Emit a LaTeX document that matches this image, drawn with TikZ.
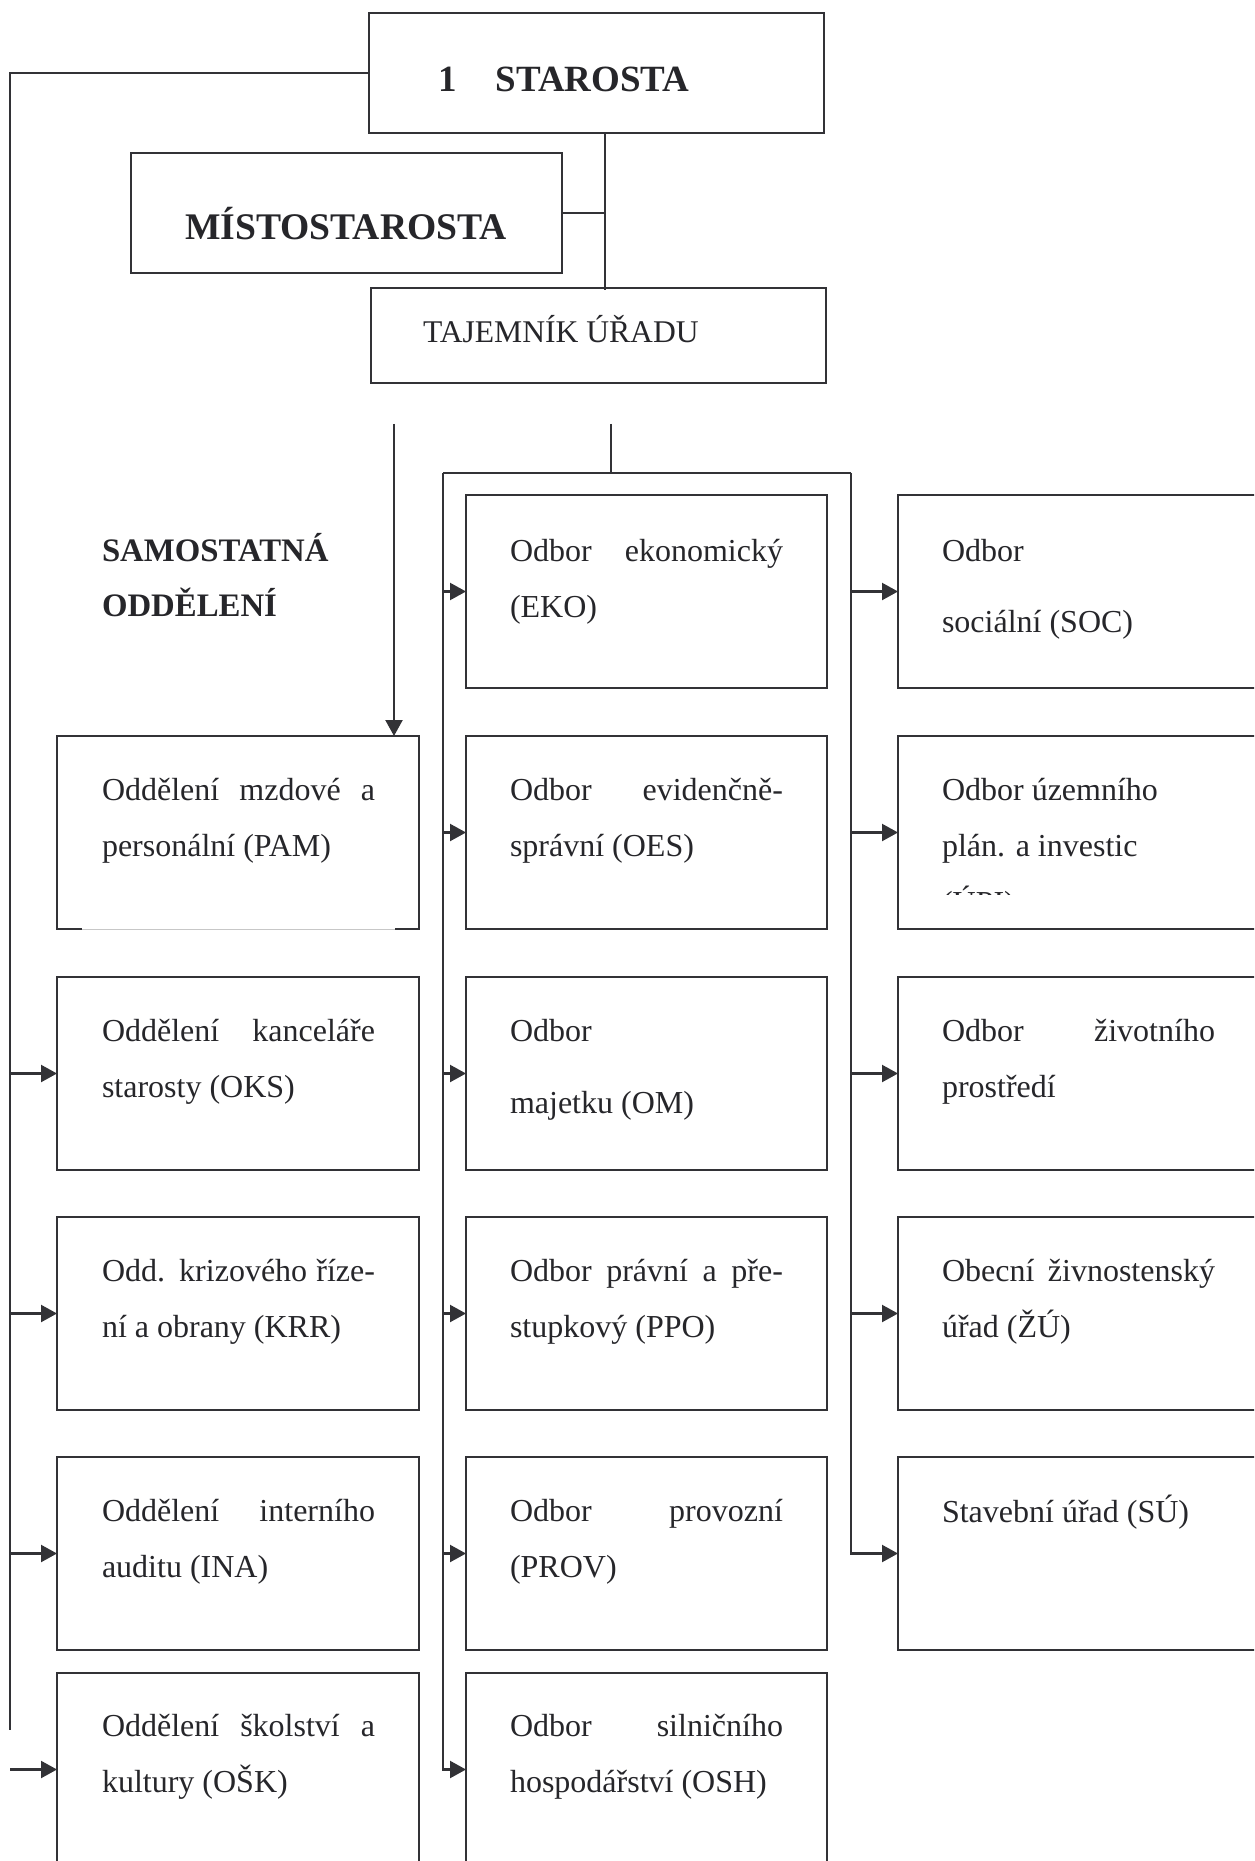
\documentclass[tikz,border=0pt]{standalone}
\usepackage{fontspec}
\setmainfont{Liberation Serif}
\usetikzlibrary{arrows.meta,calc}
\definecolor{linec}{RGB}{50,50,54}
\definecolor{txtc}{RGB}{38,38,42}
\newcommand{\jl}[1]{\makebox[\linewidth][s]{#1}}
\newcommand{\tb}[1]{\parbox[t]{136.5pt}{#1}}
\begin{document}
\begin{tikzpicture}[x=0.5pt,y=-0.5pt,
  box/.style={draw=linec,line width=1.2pt,rectangle,inner sep=0pt,outer sep=0pt,anchor=north west,minimum height=96.5pt},
  lbox/.style={box,minimum width=181pt},
  mbox/.style={box,minimum width=180.5pt},
  rbox/.style={box,minimum width=183pt},
  ln/.style={draw=linec,line width=1.1pt},
  arr/.style={ln,-{Triangle[length=8pt,width=8.5pt]}},
  txt/.style={anchor=base west,inner sep=0pt,outer sep=0pt,text=txtc,font=\fontsize{16}{28.25}\selectfont},
  btxt/.style={anchor=base west,inner sep=0pt,outer sep=0pt,text=txtc,font=\bfseries\fontsize{18.5}{22}\selectfont}
]
\useasboundingbox (0,0) rectangle (1254,1861);
\fill[white] (0,0) rectangle (1254,1861);
\clip (0,0) rectangle (1254,1861);

% top boxes
\node[box,minimum width=227.5pt,minimum height=60pt] (starosta) at (369,13) {};
\node[btxt] (starostat) at (438,92) {1\hspace{19.5pt}STAROSTA};
\node[box,minimum width=215.5pt,minimum height=60pt] (misto) at (131,153) {};
\node[btxt,font=\bfseries\fontsize{18.8}{22}\selectfont] (mistot) at (185,240) {MÍSTOSTAROSTA};
\node[box,minimum width=227.5pt,minimum height=47.5pt] (taj) at (371,288) {};
\node[txt,font=\fontsize{15.8}{18}\selectfont] (tajt) at (423,343) {TAJEMNÍK ÚŘADU};

\node[btxt,font=\bfseries\fontsize{16.4}{27.5}\selectfont] (samt) at (102,561) {\tb{SAMOSTATNÁ\\ODDĚLENÍ}};

% left column
\node[lbox] (pam) at (57,736) {};
\node[lbox] (oks) at (57,977) {};
\node[lbox] (krr) at (57,1217) {};
\node[lbox] (ina) at (57,1457) {};
\node[lbox] (osk) at (57,1673) {};
% middle column
\node[mbox] (eko) at (466,495) {};
\node[mbox] (oes) at (466,736) {};
\node[mbox] (om) at (466,977) {};
\node[mbox] (ppo) at (466,1217) {};
\node[mbox] (prov) at (466,1457) {};
\node[mbox] (osh) at (466,1673) {};
% right column
\node[rbox] (soc) at (898,495) {};
\node[rbox] (upi) at (898,736) {};
\node[rbox] (zp) at (898,977) {};
\node[rbox] (zu) at (898,1217) {};
\node[rbox] (su) at (898,1457) {};

% gap in the bottom border of PAM
\draw[white,line width=1.9pt] ($(pam.south west)+(25,0)$) -- ($(pam.south east)+(-24,0)$);
\draw[black!22,line width=0.5pt] ($(pam.south west)+(25,0)$) -- ($(pam.south east)+(-24,0)$);

% texts left
\node[txt] (pamt) at ($(pam.north west)+(45,64)$) {\tb{\jl{Oddělení mzdové a}\\personální (PAM)}};
\node[txt] (okst) at ($(oks.north west)+(45,64)$) {\tb{\jl{Oddělení kanceláře}\\starosty (OKS)}};
\node[txt] (krrt) at ($(krr.north west)+(45,64)$) {\tb{\jl{Odd. krizového říze-}\\ní a obrany (KRR)}};
\node[txt] (inat) at ($(ina.north west)+(45,64)$) {\tb{\jl{Oddělení interního}\\auditu (INA)}};
\node[txt] (oskt) at ($(osk.north west)+(45,63)$) {\tb{\jl{Oddělení školství a}\\kultury (OŠK)}};
% texts middle
\node[txt] (ekot) at ($(eko.north west)+(44,66)$) {\tb{\jl{Odbor ekonomický}\\(EKO)}};
\node[txt] (oest) at ($(oes.north west)+(44,64)$) {\tb{\jl{Odbor evidenčně-}\\správní (OES)}};
\node[txt] (omt) at ($(om.north west)+(44,64)$) {\tb{Odbor\\[8pt]majetku (OM)}};
\node[txt] (ppot) at ($(ppo.north west)+(44,64)$) {\tb{\jl{Odbor právní a pře-}\\stupkový (PPO)}};
\node[txt] (provt) at ($(prov.north west)+(44,64)$) {\tb{\jl{Odbor provozní}\\(PROV)}};
\node[txt] (osht) at ($(osh.north west)+(44,63)$) {\tb{\jl{Odbor silničního}\\hospodářství (OSH)}};
% texts right
\node[txt] (soct) at ($(soc.north west)+(44,66)$) {\tb{Odbor\\[7.5pt]sociální (SOC)}};
\begin{scope}
  \clip (898,740) rectangle (1254,894);
  \node[txt] (upit) at ($(upi.north west)+(44,64)$) {\tb{Odbor územního\\plán. a investic\\(ÚPI)}};
\end{scope}
\node[txt] (zpt) at ($(zp.north west)+(44,64)$) {\tb{\jl{Odbor životního}\\prostředí}};
\node[txt] (zut) at ($(zu.north west)+(44,64)$) {\tb{\jl{Obecní živnostenský}\\úřad (ŽÚ)}};
\node[txt] (sut) at ($(su.north west)+(44,65)$) {\tb{Stavební úřad (SÚ)}};

% connectors
\coordinate (lbot) at (10,1730);
\coordinate (vx) at (605,0);
\coordinate (pamtop) at (394,424);
\coordinate (mtop) at (611,424);
\coordinate (bl) at (443,473);
\coordinate (br) at (851,473);

\draw[ln] (starosta.west) -| (lbot);
\draw[ln] (vx |- starosta.south) -- ($(vx |- taj.north)+(0,2)$);
\draw[ln] (misto.east) -- (misto.east -| vx);
\draw[arr] (pamtop) -- (pamtop |- pam.north);
\draw[ln] (mtop) -- (mtop |- bl);
\draw[ln] (bl) -- (br);
\draw[arr] (bl) |- (osh.west);
\draw[arr] (br) |- (su.west);
\foreach \n in {eko,oes,om,ppo,prov} \draw[arr] (bl |- \n.west) -- (\n.west);
\foreach \n in {soc,upi,zp,zu} \draw[arr] (br |- \n.west) -- (\n.west);
\foreach \n in {oks,krr,ina,osk} \draw[arr] (lbot |- \n.west) -- (\n.west);
\end{tikzpicture}
\end{document}
